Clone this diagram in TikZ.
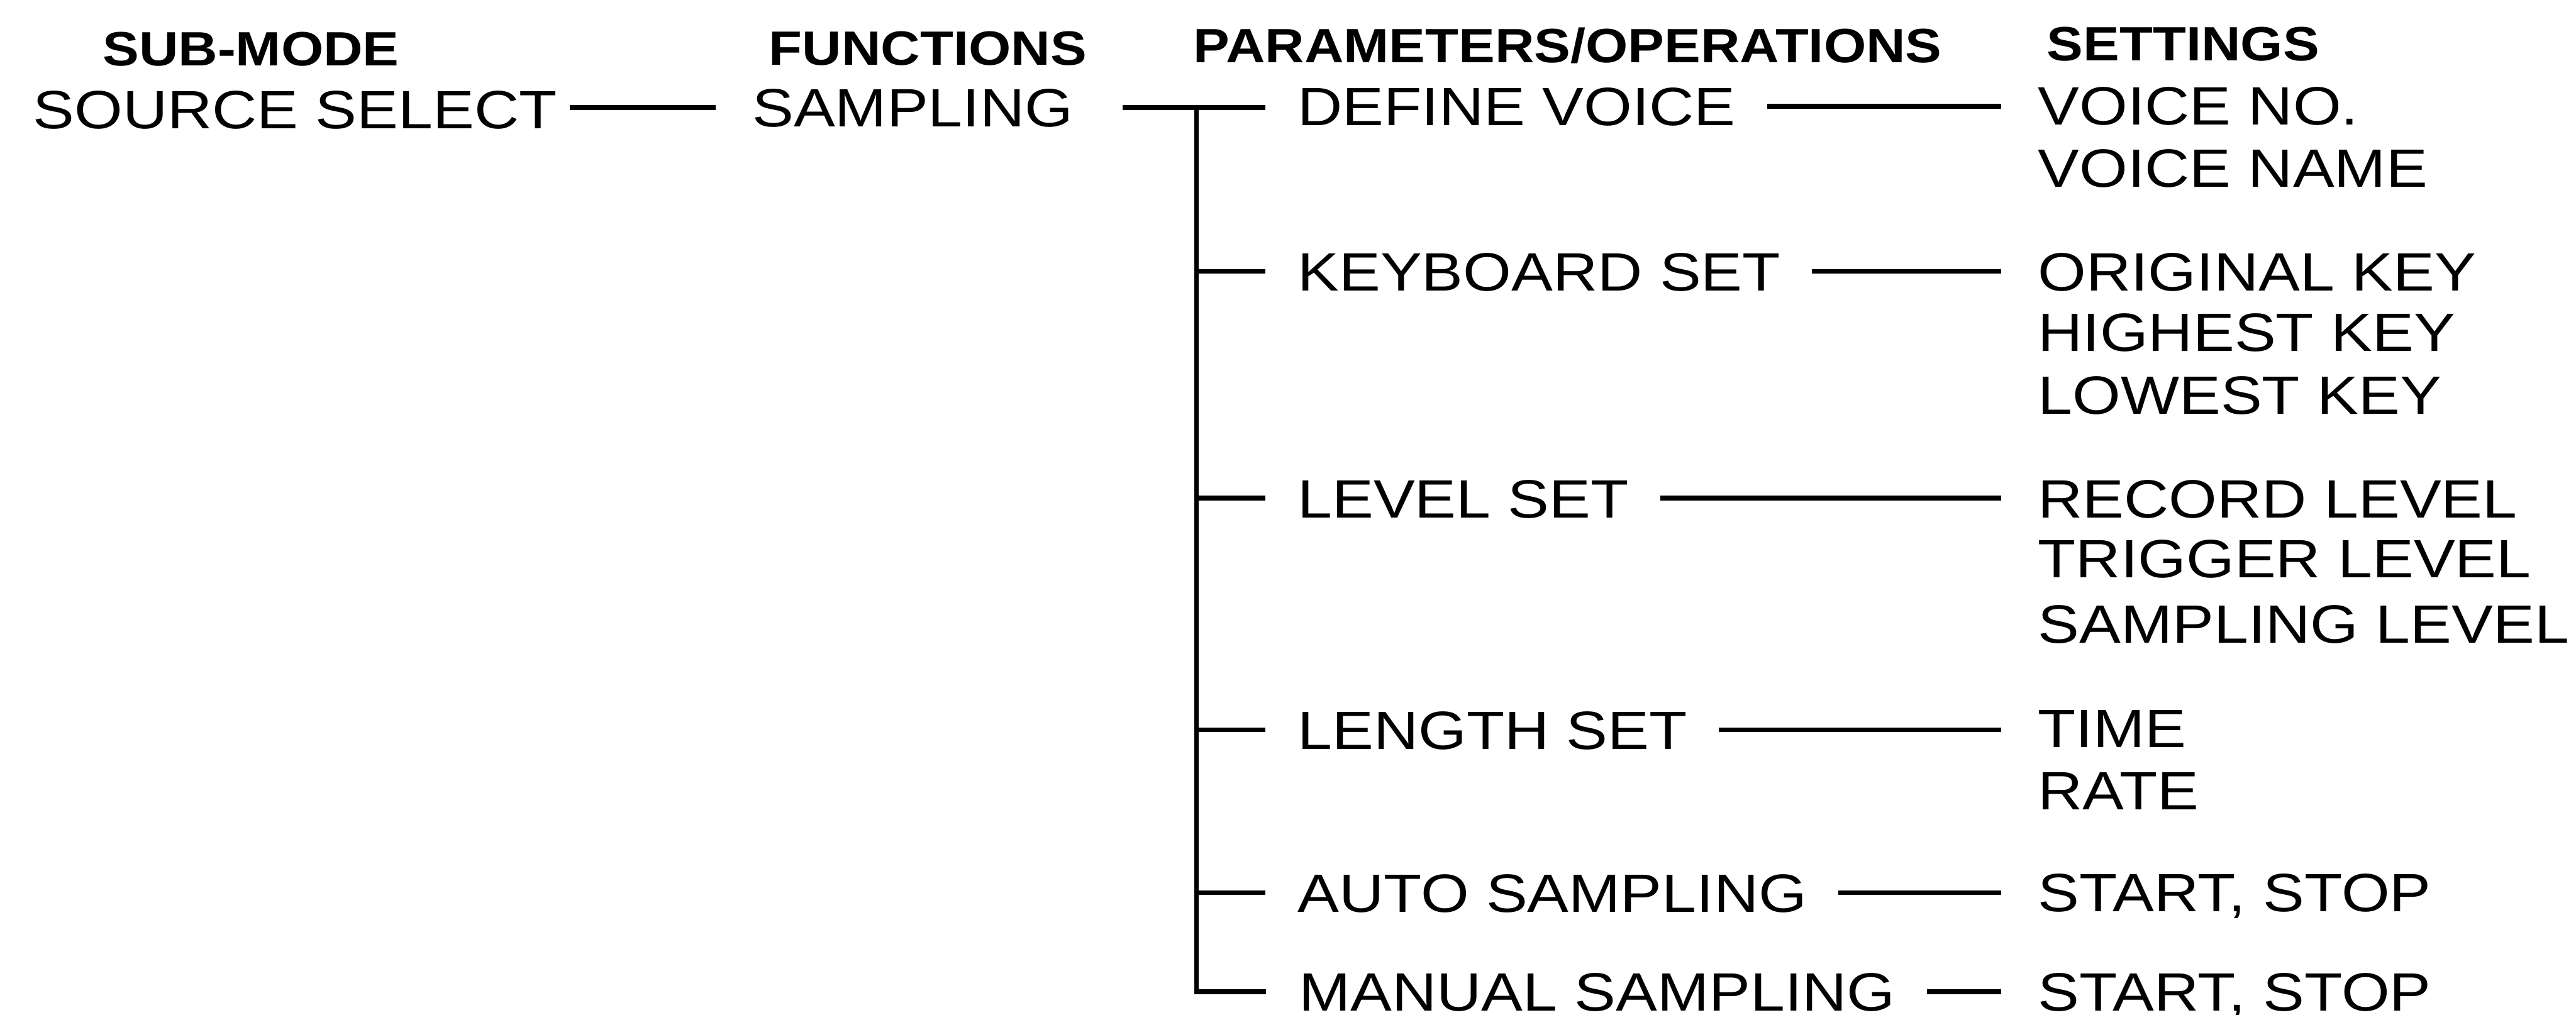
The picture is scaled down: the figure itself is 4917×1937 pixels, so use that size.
\documentclass[tikz,border=0pt]{standalone}
\usepackage{fontspec}
\setmainfont[FakeStretch=1.15]{Liberation Sans}
\newfontfamily\hdfont[FakeStretch=1.13]{Liberation Sans Bold}
\usetikzlibrary{calc}
\tikzset{
  txt/.style={inner sep=0pt, outer sep=0pt, anchor=base west, text height=7.4pt, text depth=0pt, font=\fontsize{10.3}{12}\selectfont},
  hd/.style={inner sep=0pt, outer sep=0pt, anchor=base west, text height=6.6pt, text depth=0pt, font=\hdfont\fontsize{9.2}{11}\selectfont},
  conn/.style={line width=0.9pt, black}
}
\begin{document}
\begin{tikzpicture}[x=0.1pt, y=-0.1pt]
\useasboundingbox (0,0) rectangle (4917,1937);
% headers
\node[hd] (h1) at (196,126) {SUB-MODE};
\node[hd] (h2) at (1468,124) {FUNCTIONS};
\node[hd] (h3) at (2278,119) {PARAMETERS/OPERATIONS};
\node[hd] (h4) at (3907,116) {SETTINGS};
% sub-mode and function
\node[txt] (ss) at (63,246) {SOURCE SELECT};
\node[txt] (fs) at (1436,242) {SAMPLING};
% parameters / operations
\node[txt] (p1) at (2477,240) {DEFINE VOICE};
\node[txt] (p2) at (2477,555) {KEYBOARD SET};
\node[txt] (p3) at (2477,988) {LEVEL SET};
\node[txt] (p4) at (2477,1430) {LENGTH SET};
\node[txt] (p5) at (2477,1741) {AUTO SAMPLING};
\node[txt] (p6) at (2479,1930) {MANUAL SAMPLING};
% settings
\node[txt] (s11) at (3890,238) {VOICE NO.};
\node[txt] (s12) at (3890,357) {VOICE NAME};
\node[txt] (s21) at (3890,555) {ORIGINAL KEY};
\node[txt] (s22) at (3890,670) {HIGHEST KEY};
\node[txt] (s23) at (3890,790) {LOWEST KEY};
\node[txt] (s31) at (3890,988) {RECORD LEVEL};
\node[txt] (s32) at (3890,1103) {TRIGGER LEVEL};
\node[txt] (s33) at (3890,1228) {SAMPLING LEVEL};
\node[txt] (s41) at (3890,1427) {TIME};
\node[txt] (s42) at (3890,1546) {RATE};
\node[txt] (s51) at (3890,1740) {START, STOP};
\node[txt] (s61) at (3890,1930) {START, STOP};
% connectors
\coordinate (a0) at ($(ss.east)+(24,0)$);
\coordinate (b0) at ($(fs.west)+(-70,0)$);
\draw[conn] (a0 |- fs.west) -- (b0);
\coordinate (a1) at ($(fs.east)+(95,0)$);
\coordinate (b1) at ($(p1.west)+(-62,0)$);
\draw[conn] (a1) -- (b1 |- a1);
\coordinate (tj0) at ($(p1.west)+(-193,0)$);
\coordinate (tj) at (tj0 |- a1);
\coordinate (b6) at ($(p6.west)+(-62,0)$);
\draw[conn] (tj) -- (tj |- b6) -- (b6);
\foreach \p in {p2,p3,p4,p5} {
  \coordinate (bb) at ($(\p.west)+(-62,0)$);
  \draw[conn] (tj |- bb) -- (bb);
}
\foreach \p/\s in {p1/s11,p2/s21,p3/s31,p4/s41,p5/s51,p6/s61} {
  \coordinate (ra) at ($(\p.east)+(60,0)$);
  \coordinate (rb) at ($(\s.west)+(-70,0)$);
  \draw[conn] (ra) -- (rb |- ra);
}
\end{tikzpicture}
\end{document}
